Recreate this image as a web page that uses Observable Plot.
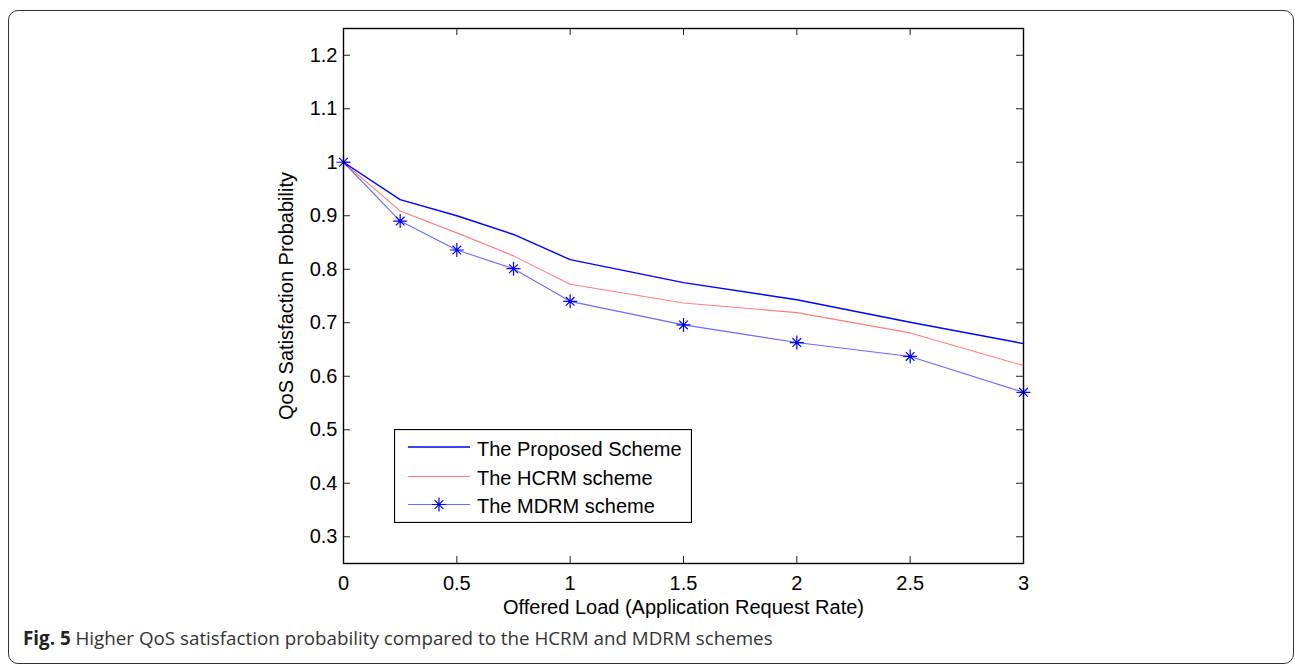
<!DOCTYPE html>
<html>
<head>
<meta charset="utf-8">
<script src="https://cdn.jsdelivr.net/npm/d3@7"></script>
<script src="https://cdn.jsdelivr.net/npm/@observablehq/plot@0.6"></script>
<style>
  html, body { margin: 0; padding: 0; background: #fff; }
  body { width: 1295px; height: 666px; position: relative; overflow: hidden; font-family: "Liberation Sans", Arial, sans-serif; }
  #border { position: absolute; left: 8px; top: 10px; width: 1286px; height: 654px; border: 1.6px solid #333; border-radius: 10px; box-sizing: border-box; }
  #chart { position: absolute; left: 0; top: 0; }
  #legend { position: absolute; left: 394px; top: 429px; }
  #caption { position: absolute; left: 23px; top: 625px; font-family: "Open Sans", sans-serif; font-size: 18.8px; color: #333; white-space: nowrap; }
  #caption b { color: #222; font-weight: 700; }
</style>
</head>
<body>
<div id="border"></div>
<div id="chart"></div>
<div id="legend"></div>
<div id="caption"><b>Fig. 5</b> Higher QoS satisfaction probability compared to the HCRM and MDRM schemes</div>
<script>
// ---- data ----
const loads    = [0, 0.25, 0.5, 0.75, 1, 1.5, 2, 2.5, 3];
const proposed = [1, 0.930, 0.900, 0.865, 0.818, 0.775, 0.743, 0.701, 0.661];
const hcrm     = [1, 0.909, 0.868, 0.825, 0.772, 0.737, 0.719, 0.681, 0.620];
const mdrm     = [1, 0.890, 0.836, 0.801, 0.740, 0.696, 0.663, 0.637, 0.570];
const seriesNames = ["The Proposed Scheme", "The HCRM scheme", "The MDRM scheme"];
const xTicks = [0, 0.5, 1, 1.5, 2, 2.5, 3];
const yTicks = [0.3, 0.4, 0.5, 0.6, 0.7, 0.8, 0.9, 1.0, 1.1, 1.2];
const xLabel = "Offered Load (Application Request Rate)";
const yLabel = "QoS Satisfaction Probability";

const colors = {proposed: "#0000ff", hcrm: "#ff7f7f", mdrm: "#6b6bff", marker: "#0000ff"};

const toRows = (vals) => loads.map((x, i) => ({x, y: vals[i]}));
const rowsP = toRows(proposed), rowsH = toRows(hcrm), rowsM = toRows(mdrm);

const asterisk = {
  draw(ctx, size) {
    const r = Math.sqrt(size / Math.PI);
    const d = r * 0.62;
    ctx.moveTo(0, -r); ctx.lineTo(0, r);
    ctx.moveTo(-r, 0); ctx.lineTo(r, 0);
    ctx.moveTo(-d, -d); ctx.lineTo(d, d);
    ctx.moveTo(-d, d); ctx.lineTo(d, -d);
  }
};

const W = 1295, H = 625;
const mL = 343, mR = 272, mT = 28, mB = 62;
const fw = W - mL - mR, fh = H - mT - mB;
const tick = 7;
const fmt = d => String(+d.toFixed(2));

const chart = Plot.plot({
  width: W, height: H,
  marginLeft: mL, marginRight: mR, marginTop: mT, marginBottom: mB,
  x: {domain: [0, 3]},
  y: {domain: [0.25, 1.25]},
  style: {fontFamily: "'Liberation Sans', Arial, sans-serif", fontSize: "20px", color: "#000", background: "transparent", overflow: "visible"},
  marks: [
    Plot.axisX(xTicks, {tickSize: 0, tickPadding: 12, tickFormat: fmt, label: null, fontSize: 20}),
    Plot.axisY(yTicks, {tickSize: 0, tickPadding: 6, tickFormat: fmt, label: null, fontSize: 20}),
    Plot.ruleX(xTicks, {x: d => d, insetTop: fh - tick, stroke: "#222"}),
    Plot.ruleX(xTicks, {x: d => d, insetBottom: fh - tick, stroke: "#222"}),
    Plot.ruleY(yTicks, {y: d => d, insetRight: fw - tick, stroke: "#222"}),
    Plot.ruleY(yTicks, {y: d => d, insetLeft: fw - tick, stroke: "#222"}),
    Plot.line(rowsH, {x: "x", y: "y", stroke: colors.hcrm, strokeWidth: 1.1}),
    Plot.line(rowsM, {x: "x", y: "y", stroke: colors.mdrm, strokeWidth: 1.1}),
    Plot.dot(rowsM, {x: "x", y: "y", symbol: asterisk, r: 7, stroke: colors.marker, fill: "none", strokeWidth: 1.2}),
    Plot.line(rowsP, {x: "x", y: "y", stroke: colors.proposed, strokeWidth: 1.4}),
    Plot.frame({stroke: "#000", strokeWidth: 1.4}),
    Plot.text([xLabel], {text: d => d, frameAnchor: "bottom", lineAnchor: "middle", textAnchor: "middle", dy: 44, fontSize: 20}),
    Plot.text([yLabel], {text: d => d, frameAnchor: "left", lineAnchor: "middle", textAnchor: "middle", rotate: -90, dx: -57, fontSize: 20})
  ]
});
document.getElementById("chart").appendChild(chart);

// ---- legend ----
const lw = 298, lh = 94;
const leg = d3.select("#legend").append("svg").attr("width", lw).attr("height", lh)
  .style("font-family", "'Liberation Sans', Arial, sans-serif").style("font-size", "20px");
leg.append("rect").attr("x", 0.5).attr("y", 0.5).attr("width", lw - 1).attr("height", lh - 1)
  .attr("fill", "#fff").attr("stroke", "#000").attr("stroke-width", 1.2);
const legendStyles = [
  {stroke: colors.proposed, w: 1.4, marker: false},
  {stroke: colors.hcrm, w: 1.1, marker: false},
  {stroke: colors.mdrm, w: 1.1, marker: true}
];
const rowY = [18, 47.5, 75.5];
seriesNames.forEach((name, i) => {
  const s = legendStyles[i];
  leg.append("line").attr("x1", 14).attr("x2", 76).attr("y1", rowY[i]).attr("y2", rowY[i])
    .attr("stroke", s.stroke).attr("stroke-width", s.w);
  if (s.marker) {
    leg.append("path").attr("d", d3.symbol(asterisk, Math.PI * 49)())
      .attr("transform", `translate(45,${rowY[i]})`)
      .attr("fill", "none").attr("stroke", colors.marker).attr("stroke-width", 1.2);
  }
  leg.append("text").attr("x", 83).attr("y", rowY[i] + 8.5).attr("fill", "#000").text(name);
});
</script>
</body>
</html>
